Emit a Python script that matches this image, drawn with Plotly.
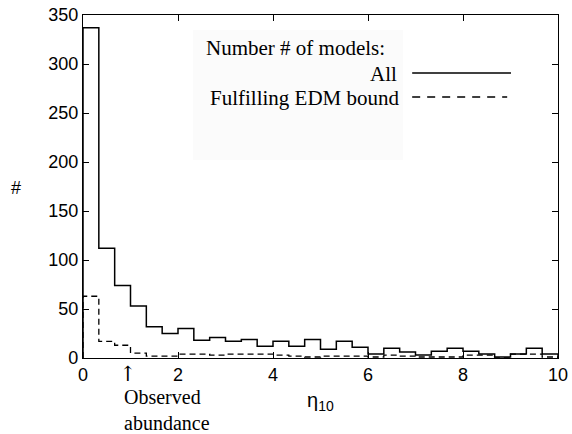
import numpy as np
import plotly.graph_objects as go

# ---- data ----
bin_edges = [i / 3 for i in range(31)]  # 30 bins over eta_10 in [0, 10]
counts_all = [337, 112, 74, 53, 32, 25, 30, 18, 21, 17,
              19, 12, 17, 12, 19, 9, 17, 11, 4, 10,
              6, 3, 7, 10, 7, 4, 1, 4, 10, 4]
counts_edm = [63, 17, 13, 5, 2, 2, 4, 4, 3, 4,
              4, 4, 3, 2, 1, 2, 2, 2, 1, 3,
              2, 1, 1, 1, 3, 3, 0, 4, 4, 1]
x_ticks = [0, 2, 4, 6, 8, 10]
y_ticks = [0, 50, 100, 150, 200, 250, 300, 350]
series_names = ["All", "Fulfilling EDM bound"]
legend_title = "Number # of models:"
observed_eta = 0.95


def step_xy(edges, vals):
    e = np.asarray(edges, dtype=float)
    v = np.asarray(vals, dtype=float)
    xs = np.concatenate([[e[0]], np.repeat(e, 2)[1:-1], [e[-1]]])
    ys = np.concatenate([[0], np.repeat(v, 2), [0]])
    return xs, ys


fig = go.Figure()
xa, ya = step_xy(bin_edges, counts_all)
xe, ye = step_xy(bin_edges, counts_edm)
fig.add_trace(go.Scatter(x=xa, y=ya, mode="lines", name=series_names[0],
                         line=dict(color="black", width=1.5), showlegend=False))
fig.add_trace(go.Scatter(x=xe, y=ye, mode="lines", name=series_names[1],
                         line=dict(color="black", width=1.3, dash="6px,4px"),
                         showlegend=False))

serif = "Liberation Serif, Times New Roman, serif"
sans = "Liberation Sans, Arial, sans-serif"

# legend background and entries (drawn manually: text left of line)
fig.add_shape(type="rect", xref="paper", yref="paper", x0=0.2316, x1=0.674,
              y0=0.577, y1=0.956, fillcolor="#fbfbfb", line_width=0, layer="below")
fig.add_annotation(xref="paper", yref="paper", x=0.255, y=0.904, xanchor="left",
                   yanchor="middle", text=legend_title, showarrow=False,
                   font=dict(family=serif, size=21, color="black"))
fig.add_annotation(xref="paper", yref="paper", x=0.666, y=0.829, xanchor="right",
                   yanchor="middle", text=series_names[0], showarrow=False,
                   font=dict(family=serif, size=21, color="black"))
fig.add_annotation(xref="paper", yref="paper", x=0.672, y=0.759, xanchor="right",
                   yanchor="middle", text=series_names[1], showarrow=False,
                   font=dict(family=serif, size=21, color="black"))
fig.add_shape(type="line", xref="paper", yref="paper", x0=0.693, x1=0.901,
              y0=0.831, y1=0.831, line=dict(color="black", width=1.6))
fig.add_shape(type="line", xref="paper", yref="paper", x0=0.693, x1=0.893,
              y0=0.761, y1=0.761, line=dict(color="black", width=1.4, dash="8px,7px"))

# observed abundance marker
fig.add_annotation(x=observed_eta, xref="x", yref="paper", y=-0.006, yanchor="top",
                   text="↑", showarrow=False,
                   font=dict(family="DejaVu Serif, serif", size=21, color="black"))
fig.add_annotation(x=observed_eta - 0.13, xref="x", yref="paper", y=-0.153,
                   xanchor="left", yanchor="middle", align="left",
                   text="Observed<br>abundance", showarrow=False,
                   font=dict(family=serif, size=20, color="black"))

# axis titles
fig.add_annotation(xref="paper", yref="paper", x=0.5, y=-0.17, text="η<sub>10</sub>",
                   showarrow=False, font=dict(family=sans, size=20, color="black"))
fig.add_annotation(xref="paper", yref="paper", x=-0.156, y=0.496, text="#",
                   showarrow=False, font=dict(family=sans, size=18, color="black"))

axis_common = dict(showline=True, linecolor="black", linewidth=1.3, mirror="ticks",
                   ticks="inside", ticklen=6, tickcolor="black", tickwidth=1.2,
                   showgrid=False, zeroline=False, automargin=False,
                   tickfont=dict(family=sans, size=18, color="black"))
fig.update_xaxes(range=[0, 10], tickvals=x_ticks, **axis_common)
fig.update_yaxes(range=[0, 350], tickvals=y_ticks, **axis_common)

fig.update_layout(width=572, height=434, margin=dict(l=83, r=14, t=15, b=76),
                  plot_bgcolor="white", paper_bgcolor="white")
fig.write_html("out.html")
